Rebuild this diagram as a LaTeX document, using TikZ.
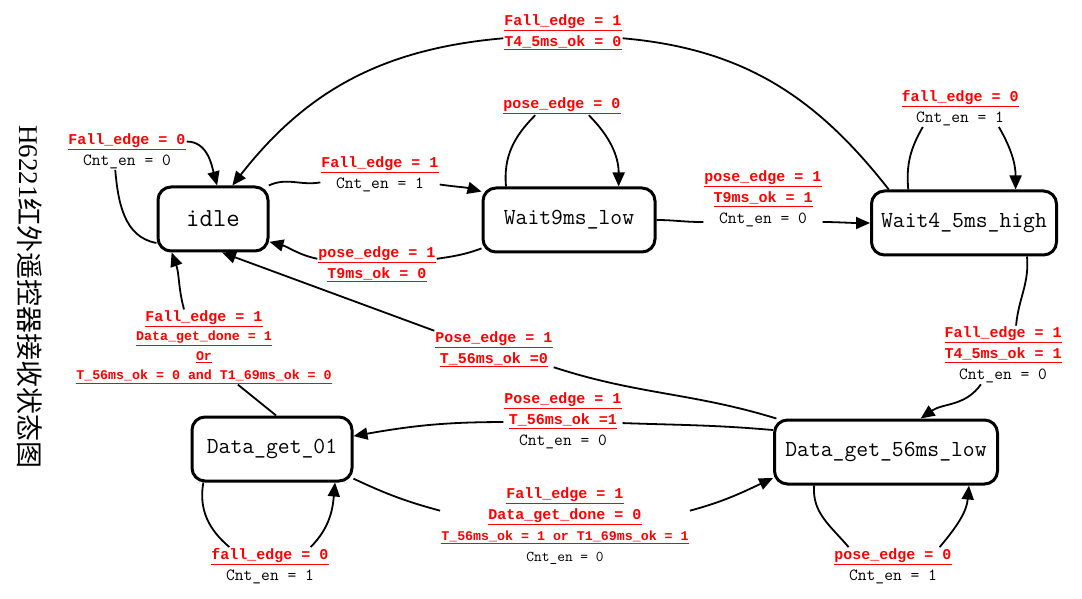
\documentclass[tikz,border=0pt]{standalone}
\usepackage{fontspec}
\setmainfont{Liberation Serif}
\newfontfamily\condfont{Liberation Mono}
\newfontfamily\cjk{Noto Sans CJK SC}
\usepackage{xcolor}
\usetikzlibrary{arrows.meta}

\newcommand{\cond}[2][15]{\textcolor{red}{\fontsize{#1}{21}\selectfont\condfont\bfseries\underline{#2}}}

\begin{document}
\begin{tikzpicture}[x=1pt, y=1pt,
    state/.style={draw, line width=3pt, rounded corners=13pt, minimum height=64pt, inner sep=0pt, font=\fontsize{23}{26}\selectfont\ttfamily},
    lab/.style={align=center, inner sep=1pt, font=\fontsize{17}{21}\selectfont\ttfamily},
    labsm/.style={lab, font=\fontsize{17}{19.5}\selectfont\ttfamily},
    line/.style={line width=1.8pt},
    flow/.style={line, -{Triangle[length=14pt,width=12pt]}}
]
\useasboundingbox (0,0) rectangle (1082,598);

% title
\node[rotate=-90, font=\fontsize{27}{30}\selectfont] (title) at (30,301) {H6221{\cjk 红外遥控器接收状态图}};

% states
\node[state, minimum width=110pt, font=\fontsize{26}{28}\selectfont\ttfamily] (idle) at (213,379) {idle};
\node[state, minimum width=172pt] (w9) at (569,378) {Wait9ms\_low};
\node[state, minimum width=185pt] (w4) at (964,375) {Wait4\_5ms\_high};
\node[state, minimum width=160pt] (d01) at (272,149) {Data\_get\_01};
\node[state, minimum width=223pt] (d56) at (886,146) {Data\_get\_56ms\_low};

% conditions
\node[lab] (l_idle) at (127,447) {\cond{Fall\_edge = 0}\\Cnt\_en = 0};
\node[lab] (l_iw) at (380,424) {\cond{Fall\_edge = 1}\\Cnt\_en = 1};
\node[lab] (l_wi) at (377,334) {\cond{pose\_edge = 1}\\\cond{T9ms\_ok = 0}};
\node[lab] (l_w9) at (562,492) {\cond{pose\_edge = 0}};
\node[lab] (l_ww) at (763,399) {\cond{pose\_edge = 1}\\\cond{T9ms\_ok = 1}\\Cnt\_en = 0};
\node[lab] (l_top) at (563,566) {\cond{Fall\_edge = 1}\\\cond{T4\_5ms\_ok = 0}};
\node[lab] (l_w4) at (960,490) {\cond{fall\_edge = 0}\\Cnt\_en = 1};
\node[lab] (l_wd) at (1003,243) {\cond{Fall\_edge = 1}\\\cond{T4\_5ms\_ok = 1}\\Cnt\_en = 0};
\node[lab] (l_di) at (494,249) {\cond{Pose\_edge = 1}\\\cond{T\_56ms\_ok =0}};
\node[lab] (l_dd) at (563,177) {\cond{Pose\_edge = 1}\\\cond{T\_56ms\_ok =1}\\Cnt\_en = 0};
\node[labsm] (l_d0i) at (204,251) {\cond{Fall\_edge = 1}\\\cond[13.3]{Data\_get\_done = 1}\\\cond[13.3]{Or}\\\cond[13.3]{T\_56ms\_ok = 0 and T1\_69ms\_ok = 0}};
\node[lab] (l_dd2) at (565,72) {\cond{Fall\_edge = 1}\\\cond{Data\_get\_done = 0}\\\cond[13.3]{T\_56ms\_ok = 1 or T1\_69ms\_ok = 1}\\{\fontsize{15}{19.5}\selectfont Cnt\_en = 0}};
\node[lab] (l_d01) at (270,32) {\cond{fall\_edge = 0}\\Cnt\_en = 1};
\node[lab] (l_d56) at (893,32) {\cond{pose\_edge = 0}\\Cnt\_en = 1};

% idle
\draw[line] (idle.203) to[out=170, in=-85] (l_idle.238);
\draw[flow] (l_idle.9) to[out=0, in=105] (idle.83);
\draw[line] (idle.31) to[out=25, in=190] (l_iw.188);
\draw[flow] (l_iw.-10) to[out=-8, in=165] (w9.162);

% Wait9ms_low
\draw[line] (w9.198) to[out=200, in=8] (l_wi.5);
\draw[flow] (l_wi.175) to[out=168, in=-15] (idle.-22);
\draw[line] (w9.152) to[out=95, in=-135] (l_w9.-161);
\draw[flow] (l_w9.-19) to[out=-45, in=90] (w9.34);
\draw[line] (w9.east) to[out=0, in=181] (l_ww.201);
\draw[flow] (l_ww.-21) to[out=-1, in=180] (w4.west);

% Wait4_5ms_high
\draw[line] (w4.156) to[out=128, in=-5] (l_top.-6);
\draw[flow] (l_top.186) to[out=185, in=52] (idle.60);
\draw[line] (w4.149) to[out=95, in=-120] (l_w4.207);
\draw[flow] (l_w4.-26) to[out=-60, in=90] (w4.33);
\draw[line] (w4.-28) to[out=-85, in=85] (l_wd.66);
\draw[flow] (l_wd.233) to[out=-125, in=35] (d56.44);

% Data_get_56ms_low
\draw[line] (d56.163) to[out=163, in=-18] (l_di.-17);
\draw[flow] (l_di.163) -- (idle.-75);
\draw[line] (d56.169) to[out=175, in=-2] (l_dd.-2);
\draw[flow] (l_dd.181) to[out=180, in=10] (d01.9);
\draw[line] (d56.205) to[out=-95, in=130] (l_d56.157);
\draw[flow] (l_d56.22) to[out=50, in=-95] (d56.-22);

% Data_get_01
\draw[line] (d01.83) -- (l_d0i.-48);
\draw[flow] (l_d0i.118) to[out=105, in=-70] (idle.-141);
\draw[line] (d01.-20) to[out=-25, in=165] (l_dd2.173);
\draw[flow] (l_dd2.7) to[out=15, in=-155] (d56.193);
\draw[line] (d01.206) to[out=-100, in=140] (l_d01.155);
\draw[flow] (l_d01.25) to[out=45, in=-95] (d01.-28);
\end{tikzpicture}
\end{document}
